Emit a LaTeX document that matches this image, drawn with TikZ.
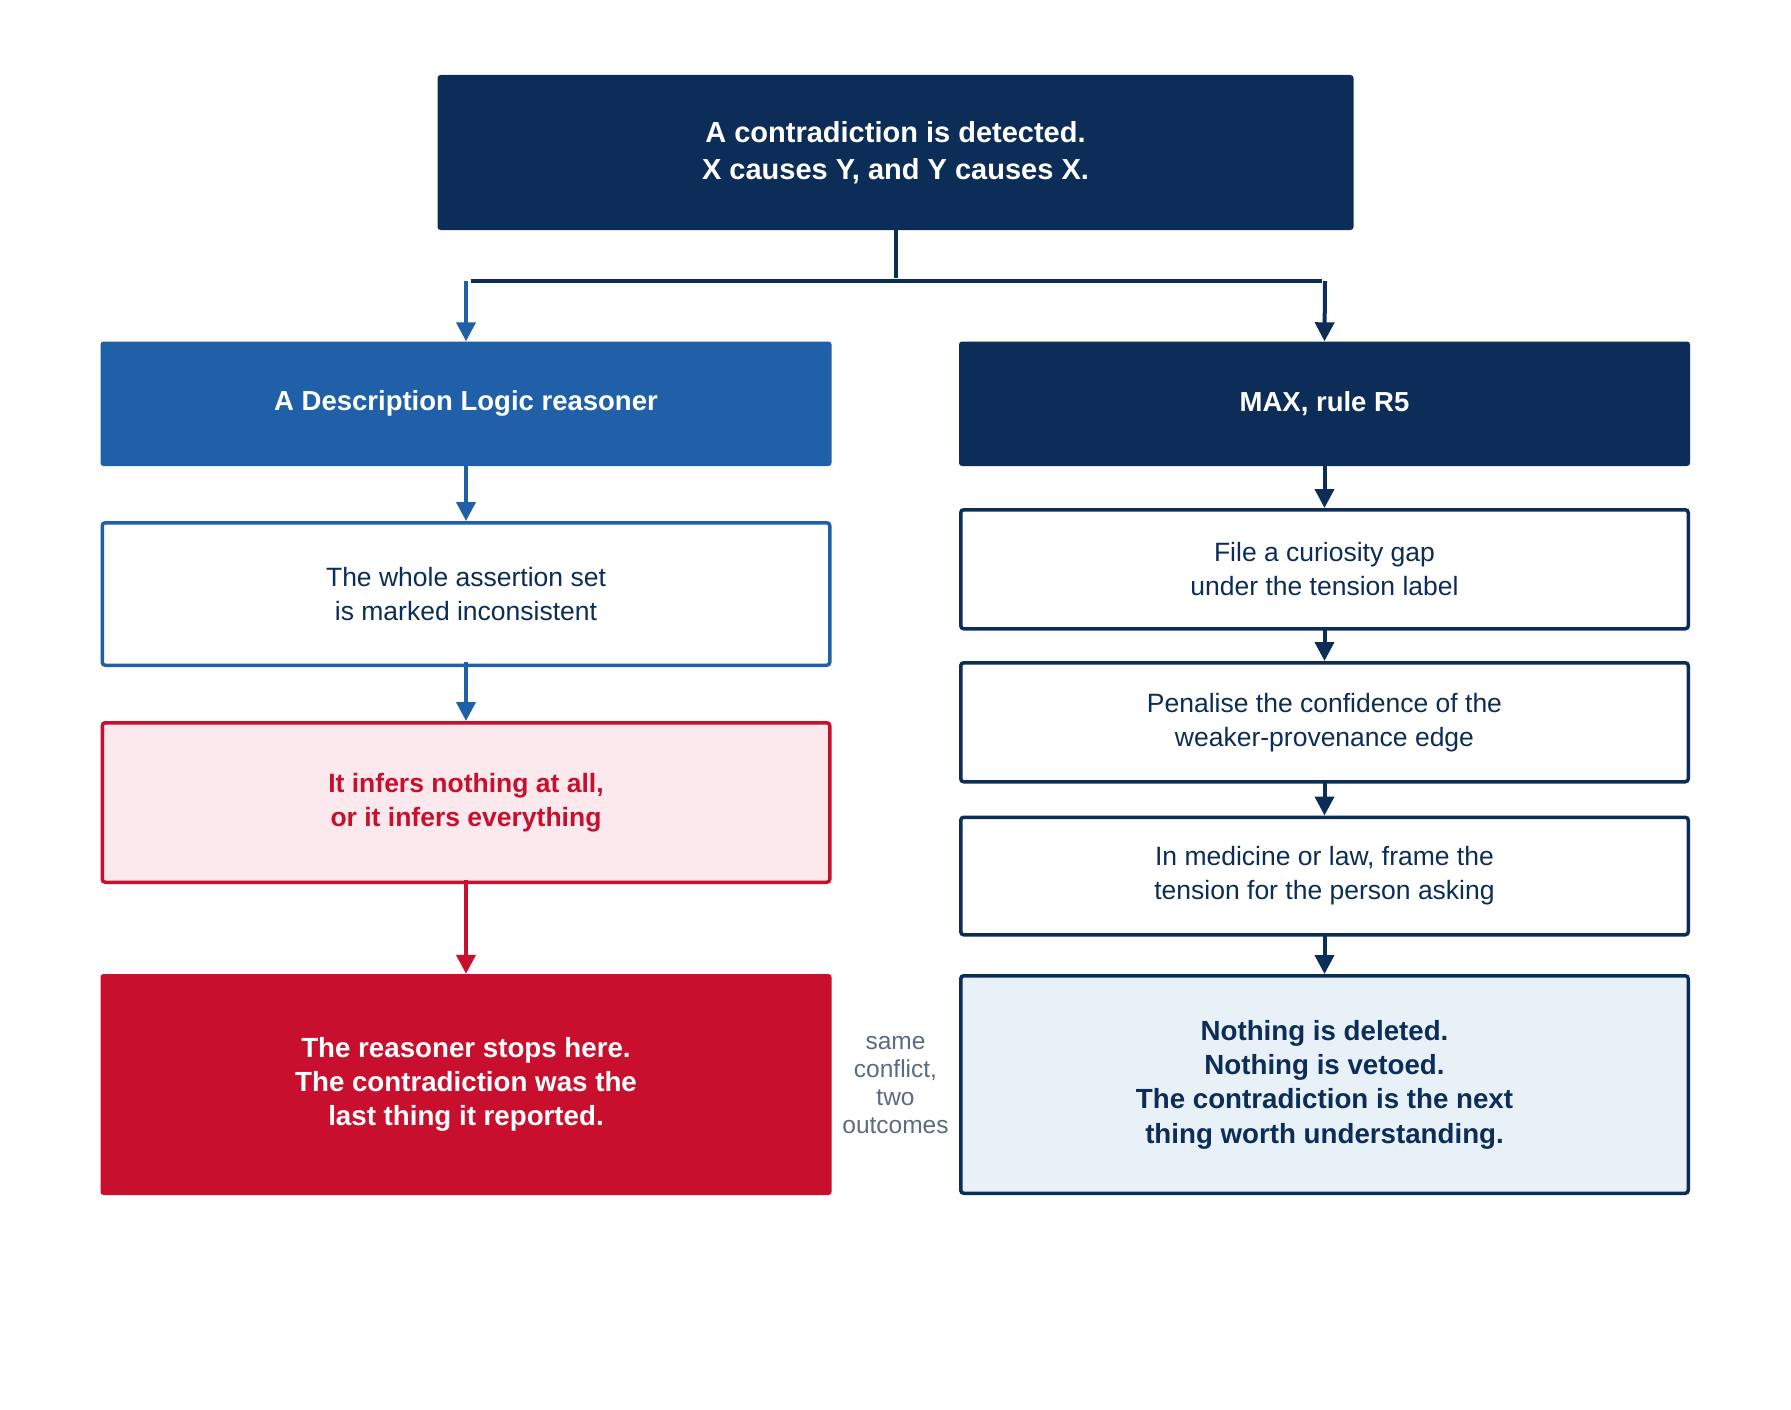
\documentclass[tikz,border=0pt]{standalone}
\usepackage{fontspec}
\setmainfont{Liberation Sans}
\usetikzlibrary{arrows.meta}
\definecolor{navy}{HTML}{0C2D57}
\definecolor{dlblue}{HTML}{2060A8}
\definecolor{alarm}{HTML}{C8102E}
\definecolor{pinkfill}{HTML}{FBE9ED}
\definecolor{palefill}{HTML}{E8F0F8}
\definecolor{note}{HTML}{5A6B82}
\tikzset{
  box/.style={rectangle, rounded corners=3pt, align=center, minimum width=731pt, inner sep=0pt},
  bodytxt/.style={font=\fontsize{26.5}{34}\selectfont},
  boldtxt/.style={font=\fontsize{26.5}{34}\selectfont\bfseries},
  bigbold/.style={font=\fontsize{27.7}{34.3}\selectfont\bfseries},
  headtxt/.style={font=\fontsize{27.5}{34}\selectfont\bfseries},
  conn/.style={line width=4pt, -{Triangle[length=19pt,width=19pt]}},
  bar/.style={line width=4pt}
}
\begin{document}
\begin{tikzpicture}[x=1pt,y=1pt]
\useasboundingbox[fill=white] (0,0) rectangle (1791,-1410);
% top
\node[box, fill=navy, text=white, minimum width=916pt, minimum height=155pt,
      font=\fontsize{29}{36.5}\selectfont\bfseries] (top) at (895.5,-152.5)
  {A contradiction is detected.\\X causes Y, and Y causes X.};
% left column
\node[box, fill=dlblue, text=white, minimum height=124.5pt, headtxt] (dl) at (466,-403.75)
  {A Description Logic reasoner};
\node[box, draw=dlblue, line width=3.5pt, fill=white, text=navy, minimum width=727.5pt, minimum height=142.5pt, bodytxt] (incons) at (466,-594)
  {The whole assertion set\\is marked inconsistent};
\node[box, draw=alarm, line width=3.5pt, fill=pinkfill, text=alarm, minimum width=727.5pt, minimum height=159.5pt, boldtxt] (infers) at (466,-802.5)
  {It infers nothing at all,\\or it infers everything};
\node[box, fill=alarm, text=white, minimum height=221pt, bigbold] (stops) at (466,-1084.5)
  {The reasoner stops here.\\The contradiction was the\\last thing it reported.};
% right column
\node[box, fill=navy, text=white, minimum height=124.5pt, headtxt] (max) at (1324.5,-403.75)
  {MAX, rule R5};
\node[box, draw=navy, line width=3.5pt, fill=white, text=navy, minimum width=727.5pt, minimum height=119pt, bodytxt] (gap) at (1324.5,-569.25)
  {File a curiosity gap\\under the tension label};
\node[box, draw=navy, line width=3.5pt, fill=white, text=navy, minimum width=727.5pt, minimum height=119pt, bodytxt] (pen) at (1324.5,-722.25)
  {Penalise the confidence of the\\weaker-provenance edge};
\node[box, draw=navy, line width=3.5pt, fill=white, text=navy, minimum width=727.5pt, minimum height=117.5pt, bodytxt] (frame) at (1324.5,-876)
  {In medicine or law, frame the\\tension for the person asking};
\node[box, draw=navy, line width=3.5pt, fill=palefill, text=navy, minimum width=727.5pt, minimum height=217.5pt, bigbold] (keep) at (1324.5,-1084.5)
  {Nothing is deleted.\\Nothing is vetoed.\\The contradiction is the next\\thing worth understanding.};
% middle note
\node[align=center, text=note, font=\fontsize{24.5}{28}\selectfont] (samec) at (895.5,-1085)
  {same\\conflict,\\two\\outcomes};
% split connector
\coordinate (mid) at (895.5,-277.5);
\coordinate (bl) at (466,-281);
\coordinate (br) at (1325,-281);
\coordinate (blh) at (470.5,-281);
\coordinate (brh) at (1321.5,-281);
\draw[bar, navy] (top.south) -- (mid);
\draw[bar, navy] (blh) -- (brh);
\draw[conn, dlblue] (bl) -- (dl.north);
\draw[conn, navy] (br) -- (max.north);
% left arrows
\draw[conn, dlblue] (dl.south) -- (incons.north);
\draw[conn, dlblue] ([yshift=5pt]incons.south) -- (infers.north);
\draw[conn, alarm] ([yshift=4pt]infers.south) -- (stops.north);
% right arrows
\draw[conn, navy] (max.south) -- (gap.north);
\draw[conn, navy] ([yshift=4pt]gap.south) -- (pen.north);
\draw[conn, navy] ([yshift=4pt]pen.south) -- (frame.north);
\draw[conn, navy] ([yshift=4pt]frame.south) -- (keep.north);
\end{tikzpicture}
\end{document}
